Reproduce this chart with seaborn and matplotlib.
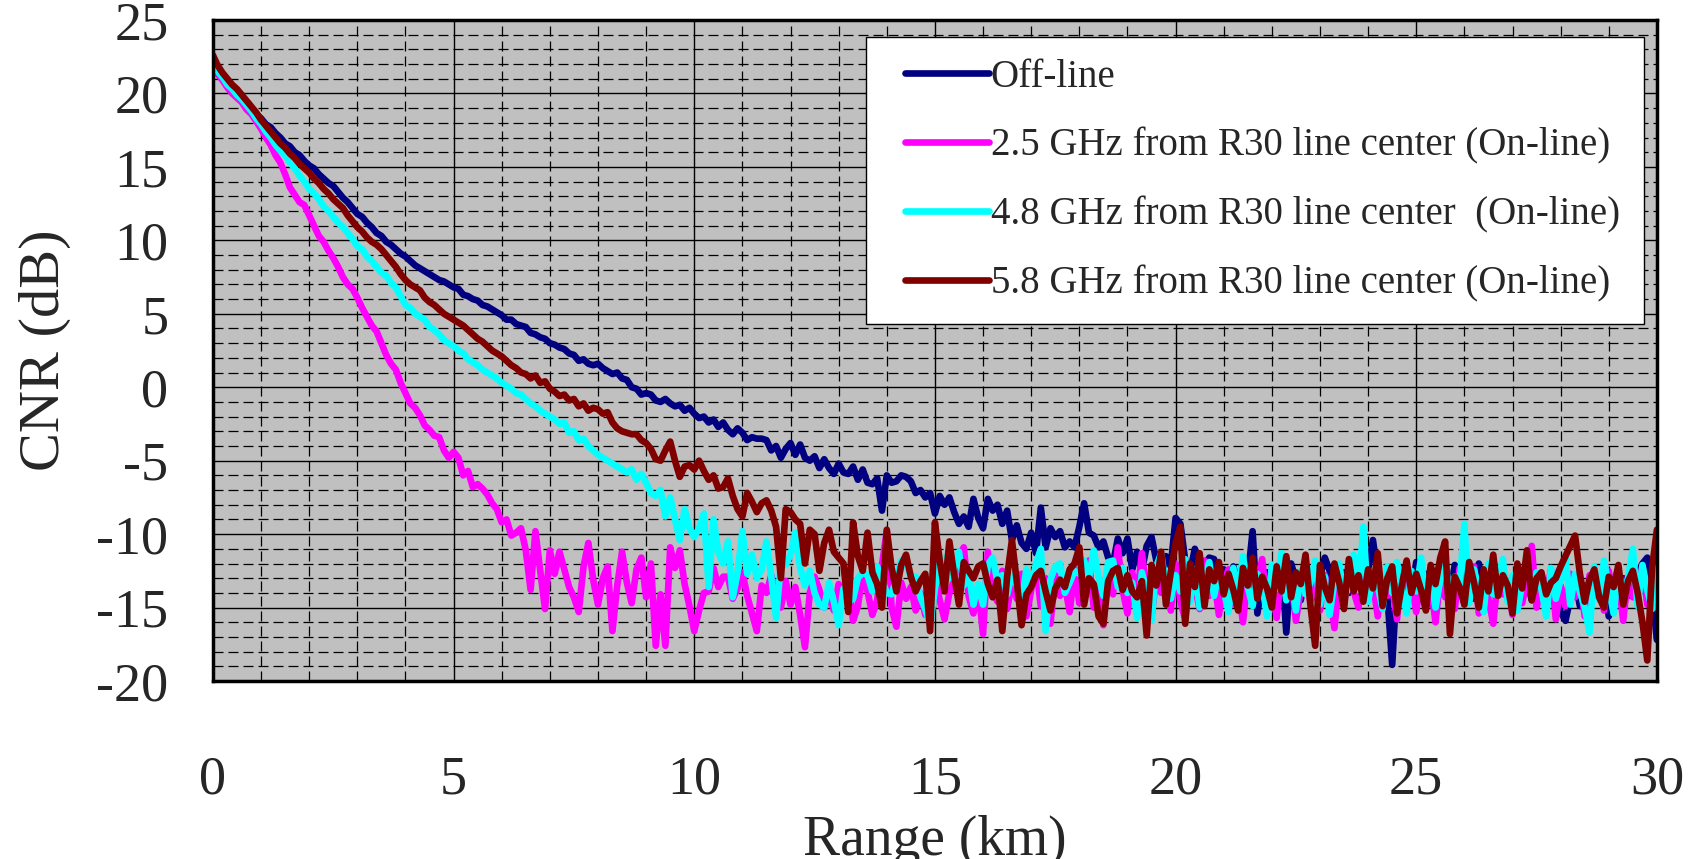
"""
CNR versus range for the off-line and three on-line laser frequencies.
"""
import matplotlib
matplotlib.use("Agg")
import matplotlib.pyplot as plt
from matplotlib.ticker import MultipleLocator
from matplotlib.legend_handler import HandlerLine2D
import seaborn as sns
import numpy as np
import pandas as pd

# range axis, 0.1 km bins
range_km = np.round(np.arange(0, 301) * 0.1, 1)

series_names = [
    "Off-line",
    "2.5 GHz from R30 line center (On-line)",
    "4.8 GHz from R30 line center  (On-line)",
    "5.8 GHz from R30 line center (On-line)",
]
series_colors = ["#000080", "#FF00FF", "#00FFFF", "#800000"]

off_line = [
    22.3, 21.6, 21.2, 20.8, 20.4, 20.1, 19.7, 19.3, 19.0, 18.6,
    18.3, 17.9, 17.7, 17.3, 17.0, 16.6, 16.4, 16.0, 15.8, 15.4,
    15.1, 14.9, 14.5, 14.2, 13.9, 13.7, 13.3, 12.9, 12.6, 12.2,
    11.8, 11.6, 11.2, 10.9, 10.5, 10.3, 9.9, 9.7, 9.4, 9.1,
    8.9, 8.6, 8.3, 8.1, 7.9, 7.7, 7.5, 7.3, 7.2, 7.0,
    6.8, 6.7, 6.3, 6.2, 6.0, 5.9, 5.6, 5.5, 5.3, 5.1,
    4.9, 4.6, 4.6, 4.3, 4.2, 4.1, 3.7, 3.6, 3.4, 3.3,
    3.0, 2.9, 2.7, 2.6, 2.3, 2.2, 1.8, 1.9, 1.6, 1.5,
    1.6, 1.3, 1.1, 0.9, 1.0, 0.6, 0.5, 0.0, -0.1, -0.5,
    -0.4, -0.5, -0.9, -1.0, -0.8, -1.1, -1.3, -1.2, -1.6, -1.4,
    -1.8, -2.1, -2.0, -2.4, -2.2, -2.7, -2.4, -2.9, -3.2, -2.8,
    -3.1, -3.6, -3.4, -3.5, -3.5, -3.6, -4.3, -4.0, -4.8, -4.2,
    -3.8, -4.6, -3.9, -4.8, -5.0, -4.7, -5.5, -4.9, -5.5, -5.9,
    -5.2, -5.8, -5.9, -5.4, -6.3, -5.6, -6.5, -6.6, -6.2, -8.4,
    -6.0, -6.5, -6.4, -6.0, -6.1, -6.4, -7.2, -7.0, -7.5, -7.2,
    -8.6, -7.4, -8.0, -7.5, -8.5, -9.3, -8.8, -9.5, -7.6, -8.9,
    -9.6, -7.6, -8.4, -8.0, -9.3, -8.4, -10.4, -9.4, -10.6, -11.0,
    -9.9, -11.3, -8.2, -10.9, -9.6, -10.2, -9.8, -10.9, -10.5, -10.9,
    -9.5, -7.9, -9.9, -10.1, -10.9, -10.5, -11.6, -12.0, -10.3, -11.3,
    -10.3, -12.4, -11.2, -12.5, -10.8, -10.2, -11.8, -12.9, -11.5, -12.2,
    -8.9, -9.3, -11.8, -12.6, -11.0, -12.4, -12.1, -11.6, -11.7, -13.1,
    -12.4, -14.0, -12.2, -13.5, -11.9, -13.0, -9.8, -15.4, -13.2, -12.6,
    -13.8, -12.3, -11.9, -16.7, -12.0, -13.1, -14.5, -12.8, -13.6, -14.3,
    -12.9, -11.6, -12.5, -14.2, -13.7, -12.6, -14.0, -13.2, -12.7, -13.9,
    -12.4, -10.4, -12.8, -13.4, -14.2, -18.9, -13.1, -12.3, -13.5, -14.0,
    -11.9, -13.0, -12.7, -14.6, -15.2, -13.3, -12.9, -14.1, -12.1, -13.4,
    -14.7, -13.2, -14.4, -12.0, -13.7, -12.6, -14.1, -13.0, -12.5, -13.8,
    -14.3, -12.8, -13.9, -13.1, -14.5, -12.9, -13.6, -14.8, -13.0, -14.2,
    -15.3, -15.9, -14.4, -13.2, -14.9, -13.5, -14.6, -13.3, -14.0, -13.1,
    -15.6, -13.4, -14.5, -13.0, -14.2, -13.6, -12.7, -12.0, -11.6, -13.9,
    -17.2,
]

on_line_2_5 = [
    21.8, 21.3, 20.9, 20.4, 20.0, 19.7, 19.4, 18.9, 18.6, 18.1,
    17.6, 17.0, 16.5, 15.8, 15.3, 14.5, 13.6, 13.1, 12.6, 12.4,
    11.7, 11.0, 10.3, 9.9, 9.3, 8.8, 8.2, 7.5, 7.0, 6.7,
    6.1, 5.4, 4.8, 4.2, 3.8, 3.0, 2.2, 1.6, 1.2, 0.3,
    -0.4, -1.1, -1.4, -1.9, -2.6, -2.9, -3.3, -3.4, -4.3, -4.8,
    -4.4, -4.8, -6.0, -5.7, -6.8, -6.6, -6.9, -7.3, -7.9, -8.3,
    -9.2, -9.0, -10.1, -9.9, -9.6, -11.1, -13.8, -9.8, -12.5, -15.1,
    -11.1, -12.7, -11.2, -12.4, -13.6, -14.3, -15.3, -12.2, -10.6, -13.1,
    -14.8, -13.0, -12.2, -16.6, -13.5, -11.2, -13.3, -14.7, -12.4, -11.6,
    -14.3, -12.0, -17.6, -14.1, -17.6, -10.9, -12.3, -11.1, -13.4, -14.9,
    -16.6, -15.2, -14.0, -13.9, -12.3, -13.6, -12.9, -12.9, -14.4, -13.7,
    -12.6, -14.2, -15.4, -16.6, -13.5, -14.0, -12.8, -14.8, -15.0, -13.2,
    -14.8, -13.6, -15.5, -17.7, -14.0, -12.9, -13.8, -15.0, -14.1, -15.2,
    -13.4, -14.6, -13.0, -15.9, -14.9, -12.6, -13.9, -15.5, -14.5, -12.1,
    -9.8, -15.0, -16.3, -13.3, -14.4, -13.6, -15.2, -14.0, -15.5, -13.1,
    -12.8, -14.5, -15.8, -14.0, -13.1, -11.5, -10.9, -14.2, -15.4, -13.7,
    -16.8, -11.2, -13.9, -14.6, -12.5, -15.1, -13.3, -14.4, -12.7, -15.6,
    -13.8, -12.2, -14.9, -13.0, -16.1, -12.8, -14.2, -13.5, -15.3, -12.4,
    -14.7, -13.2, -11.8, -15.0, -13.6, -16.2, -12.5, -14.1, -10.9, -13.8,
    -15.4, -12.6, -14.3, -11.3, -13.9, -15.6, -12.9, -14.0, -13.1, -15.2,
    -12.0, -14.6, -15.8, -12.7, -13.5, -15.1, -11.8, -14.2, -13.0, -15.5,
    -13.3, -12.4, -14.8, -13.7, -16.0, -12.9, -14.4, -13.2, -11.7, -14.9,
    -13.5, -15.7, -12.6, -14.1, -13.0, -15.9, -13.8, -12.3, -14.6, -13.4,
    -15.2, -12.8, -14.0, -16.4, -13.1, -14.7, -12.5, -13.9, -15.0, -10.5,
    -14.5, -13.3, -15.6, -12.9, -14.2, -13.6, -15.8, -12.4, -14.0, -13.2,
    -15.3, -12.7, -14.6, -13.4, -16.0, -12.9, -14.3, -13.1, -15.1, -12.3,
    -14.8, -13.5, -12.2, -15.4, -13.0, -14.4, -16.1, -12.8, -14.1, -13.3,
    -15.5, -12.6, -14.7, -13.2, -10.8, -15.0, -13.7, -14.2, -12.4, -15.8,
    -13.5, -14.9, -12.7, -14.3, -13.1, -15.6, -12.8, -14.0, -13.4, -15.2,
    -12.5, -14.6, -13.0, -15.9, -12.9, -14.3, -13.6, -12.2, -14.8, -13.1,
    -15.0,
]

on_line_4_8 = [
    21.9, 21.5, 21.1, 20.6, 20.3, 19.9, 19.6, 19.2, 18.8, 18.3,
    17.9, 17.4, 17.0, 16.5, 16.1, 15.8, 15.3, 14.9, 14.4, 14.0,
    13.5, 13.2, 12.8, 12.3, 12.0, 11.6, 11.2, 10.9, 10.5, 10.1,
    9.6, 9.4, 8.9, 8.6, 8.2, 7.8, 7.6, 7.1, 6.8, 6.2,
    5.6, 5.4, 5.0, 4.8, 4.6, 4.1, 3.9, 3.6, 3.2, 3.0,
    2.8, 2.5, 2.3, 1.9, 1.7, 1.5, 1.2, 1.0, 0.8, 0.6,
    0.3, 0.1, -0.1, -0.4, -0.5, -0.8, -1.1, -1.3, -1.6, -1.8,
    -2.0, -2.2, -2.5, -2.4, -3.1, -3.0, -3.6, -3.5, -4.0, -4.3,
    -4.6, -4.8, -5.0, -5.2, -5.4, -5.6, -5.8, -5.6, -6.3, -5.9,
    -6.5, -7.2, -7.4, -7.0, -8.8, -7.5, -9.0, -10.4, -8.3, -9.6,
    -10.2, -9.6, -8.6, -13.6, -9.0, -11.2, -12.0, -10.5, -14.3, -12.6,
    -9.8, -12.7, -11.4, -13.0, -12.4, -10.5, -12.9, -15.7, -12.0, -12.1,
    -11.4, -9.9, -12.3, -13.5, -12.5, -14.0, -14.8, -15.0, -13.3, -14.6,
    -16.2, -13.7, -14.6, -14.4, -13.0, -12.6, -12.8, -13.9, -12.2, -13.1,
    -14.0, -14.1, -13.0, -11.8, -12.0, -12.9, -12.9, -14.3, -15.1, -16.2,
    -13.7, -12.0, -11.6, -13.0, -12.3, -11.2, -13.5, -12.6, -14.8, -13.4,
    -14.8, -12.1, -11.6, -13.2, -12.8, -14.1, -12.7, -13.5, -14.6, -12.4,
    -13.6, -12.0, -11.0, -16.6, -13.1, -12.2, -12.0, -14.0, -13.3, -12.5,
    -12.7, -11.8, -13.0, -11.1, -12.9, -14.2, -11.9, -11.8, -13.6, -12.3,
    -14.0, -13.3, -15.7, -12.6, -13.9, -15.9, -12.2, -11.3, -13.5, -14.4,
    -12.8, -13.9, -11.7, -14.6, -12.4, -15.0, -13.1, -11.9, -14.2, -12.6,
    -13.8, -15.3, -12.3, -14.0, -11.5, -13.6, -14.9, -12.7, -13.4, -15.6,
    -12.1, -13.7, -11.3, -14.5, -13.0, -15.2, -12.5, -14.1, -13.3, -11.8,
    -14.8, -12.9, -15.5, -13.2, -12.0, -14.3, -13.6, -11.4, -13.8, -9.5,
    -14.6, -12.8, -13.5, -15.1, -12.2, -14.0, -11.9, -13.7, -15.4, -12.5,
    -13.9, -11.6, -14.4, -12.7, -15.0, -13.1, -11.8, -14.2, -12.9, -13.5,
    -9.3, -14.7, -12.4, -13.8, -15.3, -12.0, -14.1, -13.0, -11.7, -14.6,
    -12.8, -15.2, -13.4, -11.9, -14.0, -12.6, -13.7, -15.6, -12.3, -14.4,
    -13.1, -11.5, -14.8, -12.7, -13.9, -15.0, -16.7, -12.2, -14.5, -11.8,
    -13.6, -15.4, -12.4, -14.2, -13.0, -11.0, -14.9, -12.1, -13.8, -15.1,
    -11.2,
]

on_line_5_8 = [
    22.6, 21.9, 21.4, 21.0, 20.6, 20.3, 19.9, 19.5, 19.1, 18.7,
    18.2, 17.8, 17.4, 17.0, 16.6, 16.3, 15.9, 15.6, 15.2, 14.9,
    14.6, 14.2, 13.9, 13.5, 13.2, 12.8, 12.5, 12.2, 11.7, 11.3,
    10.9, 10.6, 10.2, 9.9, 9.7, 9.4, 9.0, 8.6, 8.2, 7.7,
    7.3, 7.0, 6.8, 6.6, 6.1, 5.8, 5.6, 5.3, 5.0, 4.8,
    4.6, 4.4, 4.2, 3.9, 3.6, 3.3, 3.1, 2.8, 2.5, 2.3,
    2.1, 1.8, 1.5, 1.3, 1.0, 0.9, 0.6, 0.8, 0.3, 0.4,
    -0.1, -0.3, -0.6, -0.5, -0.9, -0.8, -1.3, -1.1, -1.6, -1.4,
    -1.5, -1.8, -1.7, -2.4, -2.8, -3.0, -3.1, -3.2, -3.2, -3.6,
    -3.8, -4.2, -4.9, -5.0, -4.3, -3.7, -5.0, -6.1, -5.4, -5.3,
    -5.6, -5.0, -5.7, -6.3, -6.0, -6.9, -6.8, -6.2, -7.4, -8.3,
    -8.8, -7.2, -7.8, -8.5, -7.9, -7.7, -8.4, -9.5, -13.0, -8.3,
    -8.5, -9.0, -9.3, -12.0, -9.7, -10.0, -12.5, -10.6, -9.7, -11.2,
    -11.6, -12.0, -15.3, -9.2, -11.5, -12.5, -9.9, -12.6, -13.4, -15.0,
    -9.7, -12.3, -13.9, -12.1, -11.4, -12.9, -13.9, -13.2, -12.7, -16.6,
    -9.2, -11.8, -13.9, -10.5, -12.8, -14.8, -11.9, -12.5, -13.0, -12.2,
    -12.0, -13.4, -14.3, -13.1, -16.6, -12.9, -10.4, -13.2, -16.2, -14.1,
    -13.6, -12.8, -12.5, -13.9, -15.2, -13.7, -13.1, -13.6, -12.4, -12.0,
    -10.9, -14.8, -13.0, -13.4, -15.6, -16.1, -13.2, -12.5, -12.3, -13.8,
    -12.8, -13.9, -14.3, -13.2, -16.9, -12.1, -13.5, -11.2, -14.8, -12.6,
    -10.6, -9.5, -16.1, -12.0, -13.6, -11.3, -14.9, -12.4, -13.2, -11.9,
    -14.1, -12.7, -13.8, -15.2, -12.3, -13.5, -11.6, -14.4, -12.9, -13.7,
    -15.0, -12.2, -13.9, -11.5, -14.3, -12.6, -13.4, -11.4, -14.8, -17.6,
    -12.1, -13.6, -14.5, -12.0, -13.3, -15.1, -11.7, -13.9, -12.8, -14.6,
    -12.4, -13.7, -11.3, -14.9, -13.0, -12.2, -15.4, -13.5, -11.8, -14.0,
    -12.7, -13.8, -15.2, -12.1, -13.4, -11.6, -10.5, -16.8, -12.9, -13.6,
    -14.8, -11.9, -13.3, -15.0, -12.4, -13.9, -11.4, -14.2, -12.8, -13.5,
    -15.4, -12.0, -13.7, -11.1, -14.5, -13.0, -12.6, -14.1, -13.3, -13.0,
    -12.2, -11.5, -10.8, -10.1, -12.7, -14.6, -13.1, -12.4, -14.3, -15.0,
    -12.9, -13.6, -12.1, -14.8, -13.2, -12.5, -14.0, -16.0, -18.6, -12.3,
    -9.7,
]

x_ticks = [0, 5, 10, 15, 20, 25, 30]
y_ticks = [-20, -15, -10, -5, 0, 5, 10, 15, 20, 25]

df = pd.concat(
    [pd.DataFrame({"Range (km)": range_km, "CNR (dB)": vals, "series": name})
     for name, vals in zip(series_names, [off_line, on_line_2_5, on_line_4_8, on_line_5_8])],
    ignore_index=True,
)

sns.set_style("white")
plt.rcParams["font.family"] = ["Liberation Serif", "DejaVu Serif"]
plt.rcParams["axes.unicode_minus"] = False

fig = plt.figure(figsize=(16.98, 8.59), dpi=100)
ax = fig.add_axes([0.1254, 0.2072, 0.8504, 0.7695])
ax.set_facecolor("#C0C0C0")

sns.lineplot(data=df, x="Range (km)", y="CNR (dB)", hue="series",
             hue_order=series_names, palette=series_colors,
             linewidth=4.8, estimator=None, sort=False, ax=ax)

ax.set_xlim(0, 30)
ax.set_ylim(-20, 25)
ax.set_xticks(x_ticks)
ax.set_yticks(y_ticks)
ax.xaxis.set_minor_locator(MultipleLocator(1))
ax.yaxis.set_minor_locator(MultipleLocator(1))

ax.set_axisbelow(True)
ax.grid(which="major", color="black", linewidth=1.0, linestyle="-")
ax.grid(which="minor", color="black", linewidth=0.9, linestyle=(0, (8, 4)))

ax.tick_params(which="both", length=0)
ax.tick_params(axis="x", labelsize=39, pad=53)
ax.tick_params(axis="y", labelsize=39, pad=32)

for side in ["left", "bottom", "top", "right"]:
    ax.spines[side].set_visible(True)
    ax.spines[side].set_color("black")
    ax.spines[side].set_linewidth(2.5)

ax.set_xlabel("Range (km)", fontsize=40)
ax.xaxis.label.set_va("baseline")
ax.xaxis.set_label_coords(0.5, -0.2636)
ax.set_ylabel("CNR (dB)", fontsize=42)
ax.yaxis.set_label_coords(-0.098, 0.5)

handles, labels = ax.get_legend_handles_labels()
leg = ax.legend(handles, labels, loc="upper left",
                bbox_to_anchor=(0.452, 0.544, 0.539, 0.430), mode="expand",
                borderaxespad=0, fontsize=28, frameon=True, fancybox=False,
                framealpha=1, edgecolor="black", handlelength=2.62,
                handletextpad=0.05, labelspacing=0.82, borderpad=0.55,
                handler_map={h: HandlerLine2D(xpad=0.46) for h in handles})
leg.get_frame().set_linewidth(1.0)
for line in leg.get_lines():
    line.set_linewidth(4.8)

fig.savefig("out.png", dpi=100)
